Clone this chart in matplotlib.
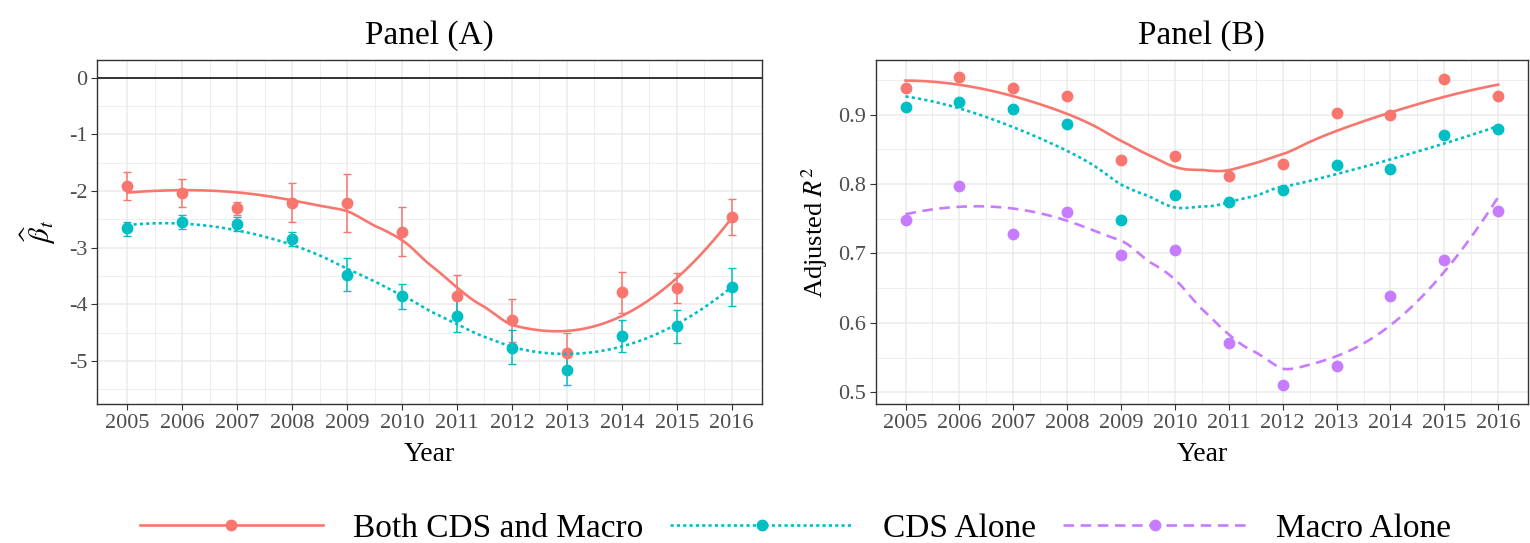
import numpy as np
import matplotlib
matplotlib.use("Agg")
import matplotlib.pyplot as plt
from matplotlib.lines import Line2D

plt.rcParams['font.family'] = ['Liberation Serif', 'DejaVu Serif']
plt.rcParams['mathtext.fontset'] = 'stix'

# data
years = np.arange(2005, 2017)

# Panel A: coefficient estimates with error bars
beta_both = [-1.92, -2.04, -2.30, -2.21, -2.22, -2.72, -3.85, -4.28, -4.86, -3.79, -3.71, -2.46]
beta_both_lo = [-2.16, -2.28, -2.43, -2.55, -2.73, -3.15, -4.20, -4.66, -5.20, -4.15, -3.98, -2.77]
beta_both_hi = [-1.67, -1.79, -2.19, -1.86, -1.71, -2.28, -3.49, -3.90, -4.51, -3.43, -3.44, -2.15]
beta_cds = [-2.66, -2.55, -2.58, -2.85, -3.48, -3.86, -4.21, -4.77, -5.16, -4.56, -4.39, -3.70]
beta_cds_lo = [-2.79, -2.68, -2.71, -2.98, -3.76, -4.09, -4.49, -5.06, -5.43, -4.85, -4.68, -4.03]
beta_cds_hi = [-2.54, -2.42, -2.46, -2.72, -3.19, -3.64, -3.92, -4.46, -4.89, -4.28, -4.10, -3.36]

# Panel B: adjusted R^2
r2_both = [0.938, 0.954, 0.938, 0.927, 0.835, 0.840, 0.812, 0.829, 0.903, 0.900, 0.952, 0.927]
r2_cds = [0.911, 0.918, 0.909, 0.887, 0.748, 0.784, 0.774, 0.791, 0.828, 0.822, 0.871, 0.879]
r2_macro = [0.748, 0.798, 0.728, 0.760, 0.698, 0.705, 0.571, 0.510, 0.538, 0.639, 0.691, 0.761]

labels = ["Both CDS and Macro", "CDS Alone", "Macro Alone"]
colors = ["#F8766D", "#00BFC4", "#C77CFF"]
styles = ["-", (0, (1.2, 1.2)), (0, (4, 2.5))]
LW = 1.9
MS = 7.5


def loess(x, y, xs, span=0.75):
    # local quadratic fit with tricube weights (like R's loess default)
    x = np.asarray(x, float)
    y = np.asarray(y, float)
    q = int(np.floor(span * len(x)))
    out = []
    for x0 in xs:
        d = np.abs(x - x0)
        h = np.sort(d)[q - 1]
        w = (1 - np.clip(d / h, 0, 1) ** 3) ** 3
        X = np.vstack([np.ones_like(x), x - x0, (x - x0) ** 2]).T
        W = np.diag(w)
        b = np.linalg.lstsq(X.T @ W @ X, X.T @ W @ y, rcond=None)[0]
        out.append(b[0])
    return np.array(out)


xs = np.linspace(2005, 2016, 200)

fig = plt.figure(figsize=(15.3, 5.43), dpi=100)
axA = fig.add_axes([0.0634, 0.256, 0.4346, 0.6335])
axB = fig.add_axes([0.5725, 0.256, 0.4261, 0.6335])


def style_axes(ax):
    ax.set_xticks(years)
    ax.set_xticks(years[:-1] + 0.5, minor=True)
    ax.set_xlim(2004.45, 2016.55)
    ax.grid(which='major', color='#EBEBEB', lw=1.1)
    ax.grid(which='minor', color='#EBEBEB', lw=0.6)
    ax.set_axisbelow(True)
    for s in ax.spines.values():
        s.set_color('#333333')
        s.set_linewidth(1.0)
    ax.tick_params(which='major', labelsize=16, colors='#333333', labelcolor='#4D4D4D', length=4, pad=3)
    ax.tick_params(which='minor', length=0)
    ax.set_xlabel("Year", fontsize=20, labelpad=7)


# Panel A
axA.axhline(0, color='black', lw=1.1)
for val, lo, hi, c, ls in [(beta_both, beta_both_lo, beta_both_hi, colors[0], styles[0]),
                           (beta_cds, beta_cds_lo, beta_cds_hi, colors[1], styles[1])]:
    val = np.array(val)
    err = [val - np.array(lo), np.array(hi) - val]
    axA.errorbar(years, val, yerr=err, fmt='none', ecolor=c, elinewidth=1.1, capsize=3, zorder=3)
    axA.plot(years, val, 'o', color=c, ms=MS, zorder=4)
    axA.plot(xs, loess(years, val, xs), color=c, ls=ls, lw=LW, zorder=5)
axA.set_ylim(-5.76, 0.31)
axA.set_yticks([0, -1, -2, -3, -4, -5])
axA.set_yticklabels(['0', '-1', '-2', '-3', '-4', '-5'])
axA.set_yticks(np.arange(-5.5, 0.1, 0.5), minor=True)
style_axes(axA)
axA.set_ylabel(r"$\widehat{\beta}_t$", fontsize=21, labelpad=8)
axA.set_title("Panel (A)", fontsize=24, pad=12)

# Panel B
for val, c, ls in zip([r2_both, r2_cds, r2_macro], colors, styles):
    axB.plot(years, val, 'o', color=c, ms=MS, zorder=4)
    axB.plot(xs, loess(years, val, xs), color=c, ls=ls, lw=LW, zorder=5)
axB.set_ylim(0.483, 0.979)
axB.set_yticks([0.5, 0.6, 0.7, 0.8, 0.9])
axB.set_yticks([0.55, 0.65, 0.75, 0.85, 0.95], minor=True)
style_axes(axB)
axB.set_ylabel(r"Adjusted $R^2$", fontsize=19, labelpad=6)
axB.set_title("Panel (B)", fontsize=24, pad=12)

handles = [Line2D([], [], color=c, ls=ls, lw=LW, marker='o', ms=MS) for c, ls in zip(colors, styles)]
fig.legend(handles, labels, loc='center', bbox_to_anchor=(0.52, 0.027), ncol=3, frameon=False,
           fontsize=24, handlelength=5.5, handletextpad=0.9, columnspacing=0.8)

fig.savefig("out.png", dpi=100)
